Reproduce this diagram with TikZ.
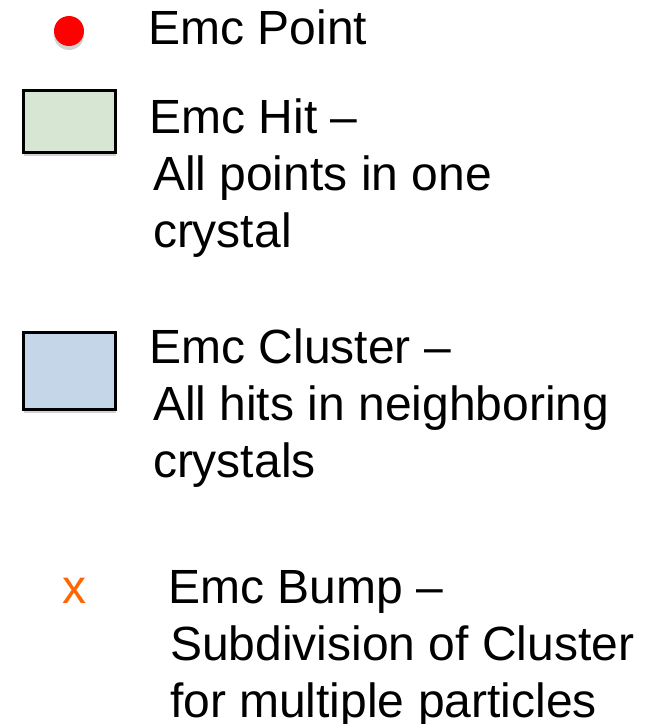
\documentclass[tikz,border=0pt]{standalone}
\usepackage{fontspec}
\setmainfont{Liberation Sans}
\usetikzlibrary{shadows}
\definecolor{hitgreen}{RGB}{215,230,211}
\definecolor{clusterblue}{RGB}{197,214,232}
\definecolor{bumporange}{RGB}{255,102,0}
\definecolor{pointred}{RGB}{255,0,0}
\begin{document}
\begin{tikzpicture}[x=1pt,y=-1pt,
  lbl/.style={inner sep=0pt, outer sep=0pt, anchor=base west, font=\fontsize{48}{57}\selectfont, text=black},
  legendbox/.style={draw=black, line width=3pt, drop shadow={shadow xshift=1pt, shadow yshift=-4pt, opacity=0.18, fill=black}},
  dotshadow/.style={drop shadow={shadow xshift=0pt, shadow yshift=-4pt, opacity=0.18, fill=black}}
]
\useasboundingbox (0,0) rectangle (650,724);
% Emc Point
\node[circle, fill=pointred, minimum size=30pt, inner sep=0pt, dotshadow] (dot) at (69,31) {};
\node[lbl] (tpoint) at (148.5,44) {Emc Point};
% Emc Hit
\node[legendbox, fill=hitgreen, minimum width=92pt, minimum height=62pt, inner sep=0pt] (hit) at (69,121) {};
\node[lbl] (thit1) at (149.5,133) {Emc Hit --};
\node[lbl] (thit2) at (153,190) {All points in one};
\node[lbl] (thit3) at (153,247) {crystal};
% Emc Cluster
\node[legendbox, fill=clusterblue, minimum width=92pt, minimum height=77pt, inner sep=0pt] (cluster) at (69,370.5) {};
\node[lbl] (tcl1) at (149.5,363) {Emc Cluster --};
\node[lbl] (tcl2) at (153,420) {All hits in neighboring};
\node[lbl] (tcl3) at (153,477) {crystals};
% Emc Bump
\node[lbl, text=bumporange] (xmark) at (62,603) {x};
\node[lbl] (tb1) at (168.5,603) {Emc Bump --};
\node[lbl] (tb2) at (170,660) {Subdivision of Cluster};
\node[lbl] (tb3) at (170,717) {for multiple particles};
\end{tikzpicture}
\end{document}
